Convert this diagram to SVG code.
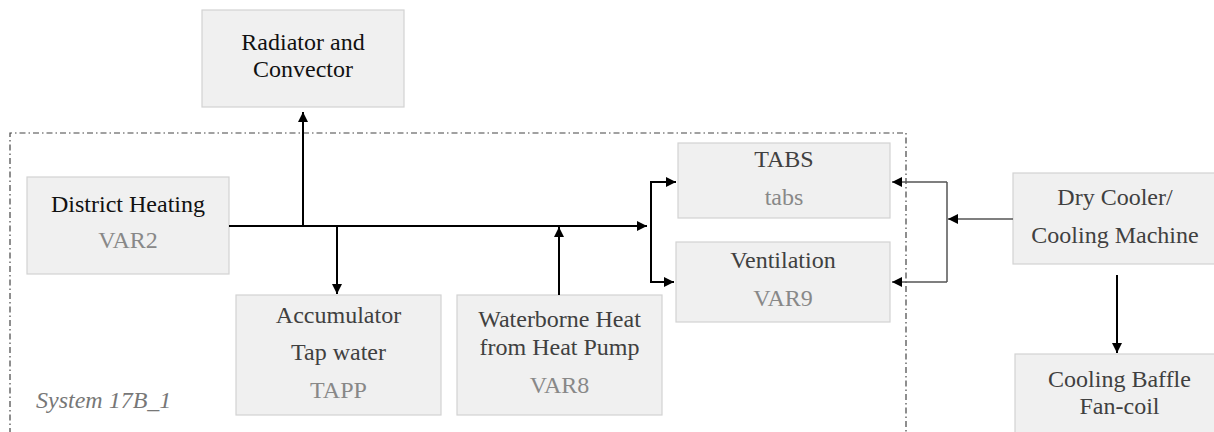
<svg xmlns="http://www.w3.org/2000/svg" width="1214" height="432" viewBox="0 0 1214 432">
<style>
.box{fill:#f0f0f0;stroke:#d2d2d2;stroke-width:1.2}
.k{fill:#111}
.d{fill:#404040}
.g{fill:#888}
.c{fill:none;stroke:#000;stroke-width:2}
.c2{fill:none;stroke:#555;stroke-width:1.5}
.bd{fill:none;stroke:#444;stroke-width:1.2;stroke-dasharray:6 3 1.5 3}
</style>
<defs>
<marker id="ah" viewBox="0 0 10 10" refX="10" refY="5" markerWidth="10" markerHeight="10" markerUnits="userSpaceOnUse" orient="auto">
<path d="M0,0 L10,5 L0,10 z" fill="#000"/>
</marker>
</defs>
<path class="bd" d="M10,434 V133 H906 V434"/>
<g font-family="'Liberation Serif', 'DejaVu Serif', serif" font-size="24">
<text x="36" y="408" font-style="italic" fill="#777">System 17B_1</text>
<g text-anchor="middle">
<g id="radiator"><rect class="box" x="202" y="10" width="202" height="97"/><text class="k" x="303" y="50">Radiator and</text><text class="k" x="303" y="77">Convector</text></g>
<g id="district"><rect class="box" x="27" y="177" width="202" height="97"/><text class="k" x="128" y="212">District Heating</text><text class="g" x="128" y="248">VAR2</text></g>
<g id="accumulator"><rect class="box" x="236" y="295" width="205" height="120"/><text class="d" x="338.5" y="323">Accumulator</text><text class="d" x="338.5" y="360">Tap water</text><text class="g" x="338.5" y="398">TAPP</text></g>
<g id="waterborne"><rect class="box" x="457" y="295" width="205" height="120"/><text class="d" x="559.5" y="327">Waterborne Heat</text><text class="d" x="559.5" y="355">from Heat Pump</text><text class="g" x="559.5" y="393">VAR8</text></g>
<g id="tabs"><rect class="box" x="678" y="143" width="212" height="75"/><text class="d" x="784" y="167">TABS</text><text class="g" x="784" y="205">tabs</text></g>
<g id="ventilation"><rect class="box" x="676" y="242" width="214" height="80"/><text class="d" x="783" y="268">Ventilation</text><text class="g" x="783" y="306">VAR9</text></g>
<g id="drycooler"><rect class="box" x="1013" y="173" width="205" height="91"/><text class="d" x="1115" y="205">Dry Cooler/</text><text class="d" x="1115" y="243">Cooling Machine</text></g>
<g id="baffle"><rect class="box" x="1015" y="354" width="205" height="84"/><text class="d" x="1119.5" y="387">Cooling Baffle</text><text class="d" x="1119.5" y="414">Fan-coil</text></g>
</g>
</g>
<g id="connectors">
<path class="c" d="M229,226 H647" marker-end="url(#ah)"/>
<path class="c" d="M303,226 V112" marker-end="url(#ah)"/>
<path class="c" d="M337,226 V294" marker-end="url(#ah)"/>
<path class="c" d="M559,295 V227" marker-end="url(#ah)"/>
<path class="c" d="M676,182 H651 V282 H674" marker-end="url(#ah)"/>
<path class="c" d="M651,182 H676" marker-end="url(#ah)"/>
<path class="c2" d="M947,182 H892" marker-end="url(#ah)"/>
<path class="c2" d="M947,282 H892" marker-end="url(#ah)"/>
<path class="c2" d="M947,182 V282"/>
<path class="c2" d="M1013,219 H948" marker-end="url(#ah)"/>
<path class="c" d="M1117,275 V353" marker-end="url(#ah)"/>
</g>
</svg>
